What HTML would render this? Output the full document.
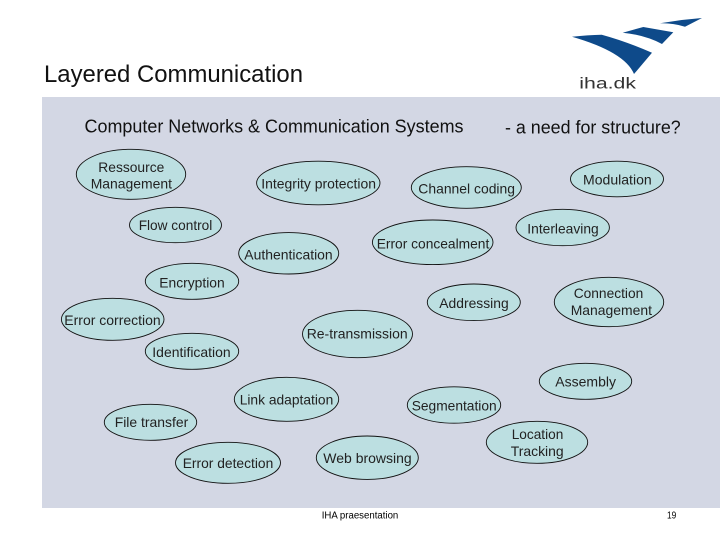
<!DOCTYPE html>
<html>
<head>
<meta charset="utf-8">
<style>
html,body{margin:0;padding:0;background:#fff;width:720px;height:540px;overflow:hidden}
svg{display:block}
text{font-family:"Liberation Sans",Arial,sans-serif;fill:#222}
.l{font-size:14px}
ellipse{fill:#bcdfe1;stroke:#111;stroke-width:.9}
</style>
</head>
<body>
<svg width="720" height="540" viewBox="0 0 720 540" xmlns="http://www.w3.org/2000/svg">
<rect width="720" height="540" fill="#fff"/>
<rect x="42" y="97" width="678" height="411" fill="#d3d7e4"/>

<path d="M572 36.7Q588 35 601.7 34.7Q625 41 652 52.7L634 74Q625 52 572 36.7Z" fill="#0e4a8a"/>
<path d="M622.7 32.7L643.3 27L673.3 32.3L662 44Q645 35 622.7 32.7Z" fill="#0e4a8a"/>
<path d="M660 23.3L681.7 20L702 18L685 26.7Q673 23 660 23.3Z" fill="#0e4a8a"/>
<text x="579.3" y="88.3" font-size="15.5" textLength="56.7" lengthAdjust="spacingAndGlyphs" style="fill:#333">iha.dk</text>

<text x="44" y="82" font-size="24" textLength="259" lengthAdjust="spacingAndGlyphs" style="fill:#111">Layered Communication</text>
<text x="84.5" y="132.7" font-size="18" textLength="379" lengthAdjust="spacingAndGlyphs" style="fill:#111">Computer Networks &amp; Communication Systems</text>
<text x="505" y="133.5" font-size="18" textLength="175.7" lengthAdjust="spacingAndGlyphs" style="fill:#111">- a need for structure?</text>

<ellipse cx="131" cy="174.3" rx="54.7" ry="25"/>
<ellipse cx="318.3" cy="183" rx="61.7" ry="21.8"/>
<ellipse cx="175.5" cy="225" rx="46" ry="17.7"/>
<ellipse cx="288.7" cy="253.3" rx="50" ry="20.7"/>
<ellipse cx="466.3" cy="187.5" rx="55" ry="20.8"/>
<ellipse cx="617" cy="179" rx="46.5" ry="17.8"/>
<ellipse cx="562.7" cy="227.5" rx="46.7" ry="18.2"/>
<ellipse cx="432.7" cy="242.3" rx="60.3" ry="22.3"/>
<ellipse cx="192" cy="281.3" rx="46.7" ry="18"/>
<ellipse cx="112.7" cy="319.3" rx="51.3" ry="21"/>
<ellipse cx="192" cy="351.3" rx="46.7" ry="18"/>
<ellipse cx="357.5" cy="334" rx="55" ry="23.7"/>
<ellipse cx="473.8" cy="302.3" rx="46.5" ry="18.3"/>
<ellipse cx="609" cy="302" rx="54.7" ry="24.7"/>
<ellipse cx="585.5" cy="381.3" rx="46.2" ry="18"/>
<ellipse cx="286.5" cy="399.3" rx="52.2" ry="22"/>
<ellipse cx="454" cy="405" rx="46.7" ry="18.2"/>
<ellipse cx="150.5" cy="422.3" rx="46.2" ry="18"/>
<ellipse cx="228" cy="462.8" rx="52.5" ry="20.5"/>
<ellipse cx="367.3" cy="457.7" rx="51" ry="21.7"/>
<ellipse cx="537" cy="442.3" rx="50.7" ry="21"/>

<g lengthAdjust="spacingAndGlyphs">
<text class="l" x="98.3" y="172" textLength="66" lengthAdjust="spacingAndGlyphs">Ressource</text>
<text class="l" x="90.7" y="188.7" textLength="81.3" lengthAdjust="spacingAndGlyphs">Management</text>
<text class="l" x="261.3" y="188.7" textLength="114.7" lengthAdjust="spacingAndGlyphs">Integrity protection</text>
<text class="l" x="138.7" y="230" textLength="73.6" lengthAdjust="spacingAndGlyphs">Flow control</text>
<text class="l" x="244.3" y="259.3" textLength="88.4" lengthAdjust="spacingAndGlyphs">Authentication</text>
<text class="l" x="418.3" y="193.3" textLength="96.7" lengthAdjust="spacingAndGlyphs">Channel coding</text>
<text class="l" x="583" y="184.3" textLength="68.7" lengthAdjust="spacingAndGlyphs">Modulation</text>
<text class="l" x="527.3" y="233.3" textLength="71.4" lengthAdjust="spacingAndGlyphs">Interleaving</text>
<text class="l" x="376.7" y="248.3" textLength="112.6" lengthAdjust="spacingAndGlyphs">Error concealment</text>
<text class="l" x="159.3" y="287.3" textLength="65.4" lengthAdjust="spacingAndGlyphs">Encryption</text>
<text class="l" x="64.3" y="325" textLength="96.4" lengthAdjust="spacingAndGlyphs">Error correction</text>
<text class="l" x="152.3" y="357" textLength="78.4" lengthAdjust="spacingAndGlyphs">Identification</text>
<text class="l" x="306.7" y="338.7" textLength="101" lengthAdjust="spacingAndGlyphs">Re-transmission</text>
<text class="l" x="439.3" y="308" textLength="69.4" lengthAdjust="spacingAndGlyphs">Addressing</text>
<text class="l" x="573.7" y="298" textLength="69.6" lengthAdjust="spacingAndGlyphs">Connection</text>
<text class="l" x="570.7" y="315" textLength="81.3" lengthAdjust="spacingAndGlyphs">Management</text>
<text class="l" x="555.3" y="386.7" textLength="60.7" lengthAdjust="spacingAndGlyphs">Assembly</text>
<text class="l" x="239.7" y="404.7" textLength="93.6" lengthAdjust="spacingAndGlyphs">Link adaptation</text>
<text class="l" x="411.7" y="410.3" textLength="85" lengthAdjust="spacingAndGlyphs">Segmentation</text>
<text class="l" x="114.7" y="427" textLength="73.6" lengthAdjust="spacingAndGlyphs">File transfer</text>
<text class="l" x="182.7" y="468" textLength="90.6" lengthAdjust="spacingAndGlyphs">Error detection</text>
<text class="l" x="323.3" y="463" textLength="88.4" lengthAdjust="spacingAndGlyphs">Web browsing</text>
<text class="l" x="511.7" y="439" textLength="51.6" lengthAdjust="spacingAndGlyphs">Location</text>
<text class="l" x="510.7" y="456" textLength="53" lengthAdjust="spacingAndGlyphs">Tracking</text>
</g>

<text x="321.7" y="518.3" font-size="10" textLength="76.6" lengthAdjust="spacingAndGlyphs" style="fill:#000">IHA praesentation</text>
<text x="667" y="518.3" font-size="10" textLength="9.3" lengthAdjust="spacingAndGlyphs" style="fill:#000">19</text>
</svg>
</body>
</html>
